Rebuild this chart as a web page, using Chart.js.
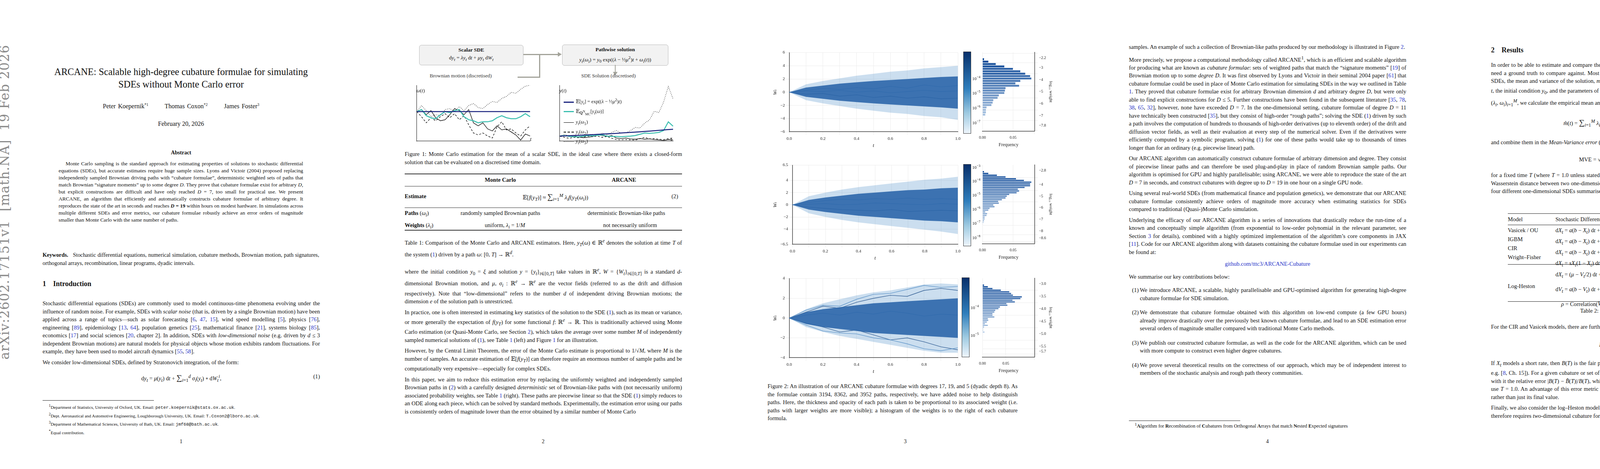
<!DOCTYPE html>
<html>
<head>
<meta charset="utf-8">
<script src="https://cdn.jsdelivr.net/npm/chart.js@4.4.1/dist/chart.umd.min.js"></script>
<style>
  body { margin: 0; background: #fff; width: 4635px; height: 1200px; position: relative; overflow: hidden;
         font-family: "Liberation Serif", "DejaVu Serif", serif; color: #111; }
  .abs { position: absolute; }
  .col { position: absolute; width: 710px; font-size: 14.6px; line-height: 20.5px; text-align: justify; }
  .col p { margin: 0 0 7px 0; }
  a, .ln { color: #2330c8; text-decoration: none; }
  .eq { text-align: center; position: relative; margin: 10px 0; }
  .eq .n { position: absolute; right: 0; top: 0; }
  .pn { position: absolute; top: 1122px; width: 927px; text-align: center; font-size: 14px; }
  canvas { position: absolute; }
  .cb { position: absolute; width: 18px; border: 1px solid #333;
        background: linear-gradient(#08306b, #2f7ebc 45%, #9ecae1 75%, #eef5fc); }
  .cbl { position: absolute; font-size: 11px; }
  table td, table th { padding: 0 10px; }
</style>
</head>
<body>

<!-- ============ PAGE 1 ============ -->
<div class="abs" style="left:-8px;top:320px;width:60px;height:600px;">
  <div style="position:absolute;left:0;top:600px;transform:rotate(-90deg);transform-origin:0 0;white-space:nowrap;
              font-family:'DejaVu Serif',serif;font-size:33px;color:#8a8a8a;letter-spacing:1px;">arXiv:2602.17151v1&nbsp; [math.NA]&nbsp; 19 Feb 2026</div>
</div>
<div class="abs" style="left:0;top:168px;width:927px;text-align:center;font-size:24.5px;line-height:32px;">
  ARCANE: Scalable high-degree cubature formulae for simulating<br>SDEs without Monte Carlo error
</div>
<div class="abs" style="left:0;top:262px;width:927px;text-align:center;font-size:16px;word-spacing:2px;">
  Peter Koepernik<sup style="font-size:10px">*1</sup> &nbsp; &nbsp; &nbsp; Thomas Coxon<sup style="font-size:10px">*2</sup> &nbsp; &nbsp; &nbsp; James Foster<sup style="font-size:10px">3</sup>
</div>
<div class="abs" style="left:0;top:308px;width:927px;text-align:center;font-size:16px;">February 20, 2026</div>
<div class="abs" style="left:0;top:383px;width:927px;text-align:center;font-size:14px;font-weight:bold;">Abstract</div>
<div class="abs" style="left:150px;top:410px;width:626px;font-size:13.3px;line-height:18px;text-align:justify;text-indent:18px;">
Monte Carlo sampling is the standard approach for estimating properties of solutions to stochastic differential equations (SDEs), but accurate estimates require huge sample sizes. Lyons and Victoir (2004) proposed replacing independently sampled Brownian driving paths with “cubature formulae”, deterministic weighted sets of paths that match Brownian “signature moments” up to some degree <i>D</i>. They prove that cubature formulae exist for arbitrary <i>D</i>, but explicit constructions are difficult and have only reached <i>D</i> = 7, too small for practical use. We present ARCANE, an algorithm that efficiently and automatically constructs cubature formulae of arbitrary degree. It reproduces the state of the art in seconds and reaches <b><i>D</i> = 19</b> within hours on modest hardware. In simulations across multiple different SDEs and error metrics, our cubature formulae robustly achieve an error orders of magnitude smaller than Monte Carlo with the same number of paths.
</div>
<div class="abs" style="left:109px;top:642px;width:708px;font-size:14.3px;line-height:21px;text-align:justify;">
<b>Keywords.</b> &nbsp; Stochastic differential equations, numerical simulation, cubature methods, Brownian motion, path signatures, orthogonal arrays, recombination, linear programs, dyadic intervals.
</div>
<div class="abs" style="left:109px;top:716px;font-size:18px;font-weight:bold;">1&nbsp;&nbsp;&nbsp; Introduction</div>
<div class="col" style="left:109px;top:766px;">
<p>Stochastic differential equations (SDEs) are commonly used to model continuous-time phenomena evolving under the influence of random noise. For example, SDEs with <i>scalar noise</i> (that is, driven by a single Brownian motion) have been applied across a range of topics—such as solar forecasting [<span class="ln">6</span>, <span class="ln">47</span>, <span class="ln">15</span>], wind speed modelling [<span class="ln">5</span>], physics [<span class="ln">76</span>], engineering [<span class="ln">89</span>], epidemiology [<span class="ln">13</span>, <span class="ln">64</span>], population genetics [<span class="ln">25</span>], mathematical finance [<span class="ln">21</span>], systems biology [<span class="ln">85</span>], economics [<span class="ln">17</span>] and social sciences [<span class="ln">20</span>, chapter 2]. In addition, SDEs with <i>low-dimensional noise</i> (e.g. driven by <i>d</i> ≤ 3 independent Brownian motions) are natural models for physical objects whose motion exhibits random fluctuations. For example, they have been used to model aircraft dynamics [<span class="ln">55</span>, <span class="ln">58</span>].</p>
<p>We consider low-dimensional SDEs, defined by Stratonovich integration, of the form:</p>
<div class="eq" style="margin-top:16px;">d<i>y<sub>t</sub></i> = <i>μ</i>(<i>y<sub>t</sub></i>) d<i>t</i> + <span style="font-size:20px">∑</span><sub><i>i</i>=1</sub><sup><i>d</i></sup> <i>σ<sub>i</sub></i>(<i>y<sub>t</sub></i>) ∘ d<i>W</i><sub><i>t</i></sub><sup><i>i</i></sup>,<span class="n">(1)</span></div>
</div>
<div class="abs" style="left:109px;top:1024px;width:285px;border-top:1px solid #222;"></div>
<div class="abs" style="left:125px;top:1030px;width:700px;font-size:11.2px;line-height:16.8px;">
<sup>1</sup>Department of Statistics, University of Oxford, UK. Email: <span style="font-family:'Liberation Mono',monospace">peter.koepernik@stats.ox.ac.uk</span>.<br>
<sup>2</sup>Dept. Aeronautical and Automotive Engineering, Loughborough University, UK. Email: <span style="font-family:'Liberation Mono',monospace">T.Coxon2@lboro.ac.uk</span>.<br>
<sup>3</sup>Department of Mathematical Sciences, University of Bath, UK. Email: <span style="font-family:'Liberation Mono',monospace">jmf68@bath.ac.uk</span>.<br>
<sup>*</sup>Equal contribution.
</div>
<div class="pn" style="left:0;">1</div>

<!-- ============ PAGE 2 ============ -->
<div class="abs" style="left:1073px;top:115px;width:265px;height:48px;border:1px solid #bbb;border-radius:6px;background:#f2f2f2;text-align:center;font-size:13.5px;line-height:20px;padding-top:2px;">
  <b>Scalar SDE</b><br>d<i>y<sub>t</sub></i> = <i>λy<sub>t</sub></i> d<i>t</i> + <i>μy<sub>t</sub></i> d<i>W<sub>t</sub></i>
</div>
<div class="abs" style="left:1439px;top:114px;width:270px;height:50px;border:1px solid #bbb;border-radius:6px;background:#f2f2f2;text-align:center;font-size:13.5px;line-height:20px;padding-top:2px;">
  <b>Pathwise solution</b><br><i>y<sub>t</sub></i>(<i>ω<sub>i</sub></i>) = <i>y</i><sub>0</sub> exp((<i>λ</i> − ½<i>μ</i><sup>2</sup>)<i>t</i> + <i>ω<sub>i</sub></i>(<i>t</i>))
</div>
<div class="abs" style="left:1340px;top:138px;width:92px;border-top:3px solid #a3a39a;"></div>
<div class="abs" style="left:1428px;top:133px;width:0;height:0;border-left:10px solid #a3a39a;border-top:6px solid transparent;border-bottom:6px solid transparent;"></div>
<div class="abs" style="left:1380px;top:138px;height:59px;border-left:3px solid #a3a39a;"></div>
<div class="abs" style="left:1325px;top:196px;width:58px;border-top:3px solid #a3a39a;"></div>
<div class="abs" style="left:1574px;top:166px;height:20px;border-left:2px solid #a3a39a;"></div>
<div class="abs" style="left:1569px;top:184px;width:0;height:0;border-top:9px solid #a3a39a;border-left:6px solid transparent;border-right:6px solid transparent;"></div>
<div class="abs" style="left:1100px;top:186px;font-size:13px;color:#333;">Brownian motion (discretised)</div>
<div class="abs" style="left:1488px;top:186px;font-size:13px;color:#333;">SDE Solution (discretised)</div>
<canvas id="f1a" class="abs" style="left:1055px;top:218px;" width="310" height="155"></canvas>
<canvas id="f1b" class="abs" style="left:1421px;top:218px;" width="310" height="155"></canvas>
<div class="abs" style="left:1066px;top:224px;font-size:13px;"><i>ω</i>(<i>t</i>)</div>
<div class="abs" style="left:1357px;top:348px;font-size:13px;"><i>t</i></div>
<div class="abs" style="left:1432px;top:224px;font-size:13px;"><i>y</i>(<i>t</i>)</div>
<div class="abs" style="left:1717px;top:348px;font-size:13px;"><i>t</i></div>
<div class="abs" style="left:1443px;top:246px;font-size:12.5px;line-height:20px;">
  <div><span style="display:inline-block;width:26px;border-top:3px solid #1a237e;vertical-align:middle;margin-right:5px;"></span>𝔼[<i>y<sub>t</sub></i>] = exp((<i>λ</i> − ½<i>μ</i><sup>2</sup>)<i>t</i>)</div>
  <div><span style="display:inline-block;width:26px;border-top:3px solid #3cbfb0;vertical-align:middle;margin-right:5px;"></span>𝔼<sub><b>Q</b><sup>N</sup><sub>MC</sub></sub>[<i>y<sub>t</sub></i>(<i>ω</i>)]</div>
  <div><span style="display:inline-block;width:26px;border-top:1.5px solid #000;vertical-align:middle;margin-right:5px;"></span><i>y<sub>t</sub></i>(<i>ω</i><sub>1</sub>)</div>
  <div><span style="display:inline-block;width:26px;border-top:2px dashed #000;vertical-align:middle;margin-right:5px;"></span><i>y<sub>t</sub></i>(<i>ω</i><sub>2</sub>)</div>
  <div><span style="display:inline-block;width:26px;border-top:1.5px dotted #000;vertical-align:middle;margin-right:5px;"></span><i>y<sub>t</sub></i>(<i>ω</i><sub>3</sub>)</div>
</div>
<div class="abs" style="left:1036px;top:384px;width:710px;font-size:14.6px;line-height:20.5px;text-align:justify;">
Figure 1: Monte Carlo estimation for the mean of a scalar SDE, in the ideal case where there exists a closed-form solution that can be evaluated on a discretised time domain.
</div>
<div class="abs" style="left:1036px;top:444px;width:710px;font-size:14.6px;">
  <div style="border-top:2px solid #333;"></div>
  <div style="position:relative;height:30px;"><b style="position:absolute;left:205px;top:6px;">Monte Carlo</b><b style="position:absolute;left:530px;top:6px;">ARCANE</b></div>
  <div style="border-top:1px solid #333;"></div>
  <div style="position:relative;height:54px;"><b style="position:absolute;left:0;top:17px;">Estimate</b>
    <span style="position:absolute;left:302px;top:15px;">𝔼[<i>f</i>(<i>y<sub>T</sub></i>)] ≈ <span style="font-size:20px">∑</span><sub><i>i</i>=1</sub><sup><i>M</i></sup> <i>λ<sub>i</sub>f</i>(<i>y<sub>T</sub></i>(<i>ω<sub>i</sub></i>))</span>
    <span style="position:absolute;right:10px;top:17px;">(2)</span></div>
  <div style="border-top:1px solid #333;"></div>
  <div style="position:relative;height:52px;line-height:26px;">
    <div><b>Paths</b> (<i>ω<sub>i</sub></i>)<span style="position:absolute;left:143px;">randomly sampled Brownian paths</span><span style="position:absolute;left:468px;">deterministic Brownian-like paths</span></div>
    <div><b>Weights</b> (<i>λ<sub>i</sub></i>)<span style="position:absolute;left:205px;">uniform, <i>λ<sub>i</sub></i> = 1/<i>M</i></span><span style="position:absolute;left:508px;">not necessarily uniform</span></div>
  </div>
  <div style="border-top:2px solid #333;margin-top:4px;"></div>
</div>
<div class="abs" style="left:1036px;top:606px;width:710px;font-size:14.6px;line-height:20.5px;text-align:justify;">
Table 1: Comparison of the Monte Carlo and ARCANE estimators. Here, <i>y<sub>T</sub></i>(<i>ω</i>) ∈ ℝ<sup><i>e</i></sup> denotes the solution at time <i>T</i> of the system (<span class="ln">1</span>) driven by a path <i>ω</i>: [0, <i>T</i>] → ℝ<sup><i>d</i></sup>.
</div>
<div class="col" style="left:1036px;top:680px;">
<p>where the initial condition <i>y</i><sub>0</sub> = <i>ξ</i> and solution <i>y</i> = {<i>y<sub>t</sub></i>}<sub><i>t</i>∈[0,<i>T</i>]</sub> take values in ℝ<sup><i>e</i></sup>, <i>W</i> = {<i>W<sub>t</sub></i>}<sub><i>t</i>∈[0,<i>T</i>]</sub> is a standard <i>d</i>-dimensional Brownian motion, and <i>μ</i>, <i>σ<sub>i</sub></i> : ℝ<sup><i>e</i></sup> → ℝ<sup><i>e</i></sup> are the vector fields (referred to as the drift and diffusion respectively). Note that “low-dimensional” refers to the number <i>d</i> of independent driving Brownian motions; the dimension <i>e</i> of the solution path is unrestricted.</p>
<p>In practice, one is often interested in estimating key statistics of the solution to the SDE (<span class="ln">1</span>), such as its mean or variance, or more generally the expectation of <i>f</i>(<i>y<sub>T</sub></i>) for some functional <i>f</i>: ℝ<sup><i>e</i></sup> → ℝ. This is traditionally achieved using Monte Carlo estimation (or Quasi-Monte Carlo, see Section <span class="ln">2</span>), which takes the average over some number <i>M</i> of independently sampled numerical solutions of (<span class="ln">1</span>), see Table <span class="ln">1</span> (left) and Figure <span class="ln">1</span> for an illustration.</p>
<p>However, by the Central Limit Theorem, the error of the Monte Carlo estimate is proportional to 1/√<i>M</i>, where <i>M</i> is the number of samples. An accurate estimation of 𝔼[<i>f</i>(<i>y<sub>T</sub></i>)] can therefore require an enormous number of sample paths and be computationally very expensive—especially for complex SDEs.</p>
<p>In this paper, we aim to reduce this estimation error by replacing the uniformly weighted and independently sampled Brownian paths in (<span class="ln">2</span>) with a carefully designed <i>deterministic</i> set of Brownian-like paths with (not necessarily uniform) associated probability weights, see Table <span class="ln">1</span> (right). These paths are piecewise linear so that the SDE (<span class="ln">1</span>) simply reduces to an ODE along each piece, which can be solved by standard methods. Experimentally, the estimation error using our paths is consistently orders of magnitude lower than the error obtained by a similar number of Monte Carlo</p>
</div>
<div class="pn" style="left:927px;">2</div>

<!-- ============ PAGE 3 ============ -->
<canvas id="p1" width="487" height="255" style="left:1975px;top:125px;"></canvas>
<canvas id="p2" width="487" height="255" style="left:1975px;top:413px;"></canvas>
<canvas id="p3" width="487" height="255" style="left:1975px;top:703px;"></canvas>
<canvas id="h1" width="200" height="255" style="left:2498px;top:125px;"></canvas>
<canvas id="h2" width="200" height="255" style="left:2498px;top:413px;"></canvas>
<canvas id="h3" width="200" height="255" style="left:2498px;top:703px;"></canvas>
<div class="cb" style="left:2466px;top:132px;height:208px;"></div>
<div class="cb" style="left:2466px;top:420px;height:208px;"></div>
<div class="cb" style="left:2462px;top:710px;height:202px;"></div>
<div class="cbl" style="left:2489px;top:192px;">10<sup>−4</sup></div>
<div class="cbl" style="left:2489px;top:229px;">10<sup>−5</sup></div>
<div class="cbl" style="left:2489px;top:267px;">10<sup>−6</sup></div>
<div class="cbl" style="left:2489px;top:305px;">10<sup>−7</sup></div>
<div class="cbl" style="left:2489px;top:419px;">10<sup>−3</sup></div>
<div class="cbl" style="left:2489px;top:454px;">10<sup>−4</sup></div>
<div class="cbl" style="left:2489px;top:490px;">10<sup>−5</sup></div>
<div class="cbl" style="left:2489px;top:526px;">10<sup>−6</sup></div>
<div class="cbl" style="left:2489px;top:562px;">10<sup>−7</sup></div>
<div class="cbl" style="left:2489px;top:599px;">10<sup>−8</sup></div>
<div class="cbl" style="left:2485px;top:778px;">10<sup>−4</sup></div>
<div class="cbl" style="left:2485px;top:849px;">10<sup>−5</sup></div>
<div class="abs" style="left:1965px;top:978px;width:640px;font-size:14.6px;line-height:20.5px;text-align:justify;">
Figure 2: An illustration of our ARCANE cubature formulae with degrees 17, 19, and 5 (dyadic depth 8). As the formulae contain 3194, 8362, and 3952 paths, respectively, we have added noise to help distinguish paths. Here, the thickness and opacity of each path is taken to be proportional to its associated weight (i.e. paths with larger weights are more visible); a histogram of the weights is to the right of each cubature formula.
</div>
<div class="pn" style="left:1854px;">3</div>

<!-- ============ PAGE 4 ============ -->
<div class="col" style="left:2890px;top:110px;">
<p>samples. An example of such a collection of Brownian-like paths produced by our methodology is illustrated in Figure <span class="ln">2</span>.</p>
<p>More precisely, we propose a computational methodology called ARCANE<sup>1</sup>, which is an efficient and scalable algorithm for producing what are known as <i>cubature formulae</i>: sets of weighted paths that match the “signature moments” [<span class="ln">19</span>] of Brownian motion up to some <i>degree D</i>. It was first observed by Lyons and Victoir in their seminal 2004 paper [<span class="ln">61</span>] that cubature formulae could be used in place of Monte Carlo estimation for simulating SDEs in the way we outlined in Table <span class="ln">1</span>. They proved that cubature formulae exist for arbitrary Brownian dimension <i>d</i> and arbitrary degree <i>D</i>, but were only able to find explicit constructions for <i>D</i> ≤ 5. Further constructions have been found in the subsequent literature [<span class="ln">35</span>, <span class="ln">78</span>, <span class="ln">38</span>, <span class="ln">65</span>, <span class="ln">32</span>], however, none have exceeded <i>D</i> = 7. In the one-dimensional setting, cubature formulae of degree <i>D</i> = 11 have technically been constructed [<span class="ln">35</span>], but they consist of high-order “rough paths”; solving the SDE (<span class="ln">1</span>) driven by such a path involves the computation of hundreds to thousands of high-order derivatives (up to eleventh order) of the drift and diffusion vector fields, as well as their evaluation at every step of the numerical solver. Even if the derivatives were efficiently computed by a symbolic program, solving (<span class="ln">1</span>) for one of these paths would take up to thousands of times longer than for an ordinary (e.g. piecewise linear) path.</p>
<p>Our ARCANE algorithm can automatically construct cubature formulae of arbitrary dimension and degree. They consist of piecewise linear paths and can therefore be used plug-and-play in place of random Brownian sample paths. Our algorithm is optimised for GPU and highly parallelisable; using ARCANE, we were able to reproduce the state of the art <i>D</i> = 7 in seconds, and construct cubatures with degree up to <i>D</i> = 19 in one hour on a single GPU node.</p>
<p>Using several real-world SDEs (from mathematical finance and population genetics), we demonstrate that our ARCANE cubature formulae consistently achieve orders of magnitude more accuracy when estimating statistics for SDEs compared to traditional (Quasi-)Monte Carlo simulation.</p>
<p>Underlying the efficacy of our ARCANE algorithm is a series of innovations that drastically reduce the run-time of a known and conceptually simple algorithm (from exponential to low-order polynomial in the relevant parameter, see Section <span class="ln">3</span> for details), combined with a highly optimized implementation of the algorithm’s core components in JAX [<span class="ln">11</span>]. Code for our ARCANE algorithm along with datasets containing the cubature formulae used in our experiments can be found at:</p>
<p style="text-align:center;margin:10px 0 12px 0;"><span class="ln">github.com/tttc3/ARCANE-Cubature</span></p>
<p>We summarise our key contributions below:</p>
<div style="padding-left:28px;position:relative;margin-top:14px;">
<p style="margin-bottom:16px;"><span style="position:absolute;left:8px;">(1)</span>We introduce ARCANE, a scalable, highly parallelisable and GPU-optimised algorithm for generating high-degree cubature formulae for SDE simulation.</p>
<p style="margin-bottom:16px;position:relative;"><span style="position:absolute;left:-20px;">(2)</span>We demonstrate that cubature formulae obtained with this algorithm on low-end compute (a few GPU hours) already improve drastically over the previously best known cubature formulae, and lead to an SDE estimation error several orders of magnitude smaller compared with traditional Monte Carlo methods.</p>
<p style="margin-bottom:16px;position:relative;"><span style="position:absolute;left:-20px;">(3)</span>We publish our constructed cubature formulae, as well as the code for the ARCANE algorithm, which can be used with more compute to construct even higher degree cubatures.</p>
<p style="position:relative;"><span style="position:absolute;left:-20px;">(4)</span>We prove several theoretical results on the correctness of our approach, which may be of independent interest to members of the stochastic analysis and rough path theory communities.</p>
</div>
</div>
<div class="abs" style="left:2890px;top:1076px;width:285px;border-top:1px solid #222;"></div>
<div class="abs" style="left:2905px;top:1080px;font-size:12.5px;"><sup>1</sup><b>A</b>lgorithm for <b>R</b>ecombination of <b>C</b>ubatures from Orthogonal <b>A</b>rrays that match <b>N</b>ested <b>E</b>xpected signatures</div>
<div class="pn" style="left:2781px;">4</div>

<!-- ============ PAGE 5 ============ -->
<div class="abs" style="left:3817px;top:118px;font-size:18px;font-weight:bold;">2&nbsp;&nbsp;&nbsp; Results</div>
<div class="col" style="left:3817px;top:156px;">
<p>In order to be able to estimate and compare the simulation errors of the cubature and the Monte Carlo SDE solvers, we need a ground truth to compare against. Most statistics of most SDEs are not available in closed form, but for a few SDEs, the mean and variance of the solution, <i>m</i>(<i>t</i>) = 𝔼[<i>y<sub>t</sub></i>] and <i>v</i>(<i>t</i>) = 𝕍(<i>y<sub>t</sub></i>), are available in closed form (as a function of <i>t</i>, the initial condition <i>y</i><sub>0</sub>, and the parameters of the SDE). Then, for a given set of Monte Carlo paths, or a given cubature (<i>λ<sub>i</sub></i>, <i>ω<sub>i</sub></i>)<sub><i>i</i>=1</sub><sup><i>M</i></sup>, we calculate the empirical mean and variance,</p>
<div class="eq" style="margin:22px 0 24px 0;"><i>m̂</i>(<i>t</i>) = <span style="font-size:20px">∑</span><sub><i>i</i>=1</sub><sup><i>M</i></sup> <i>λ<sub>i</sub>y<sub>t</sub></i>(<i>ω<sub>i</sub></i>), &nbsp; &nbsp; &nbsp; <i>v̂</i>(<i>t</i>) = <span style="font-size:20px">∑</span><sub><i>i</i>=1</sub><sup><i>M</i></sup> <i>λ<sub>i</sub></i>(<i>y<sub>t</sub></i>(<i>ω<sub>i</sub></i>) − <i>m̂</i>(<i>t</i>))<sup>2</sup>,</div>
<p>and combine them in the <i>Mean-Variance error</i> (MVE)</p>
<div class="eq" style="margin:18px 0 20px 0;">MVE = √<span style="border-top:1px solid #111;">(<i>m̂</i>(<i>T</i>) − <i>m</i>(<i>T</i>))<sup>2</sup> + (√<i>v̂</i>(<i>T</i>) − √<i>v</i>(<i>T</i>))<sup>2</sup></span>,<span class="n">(3)</span></div>
<p>for a fixed time <i>T</i> (where <i>T</i> = 1.0 unless stated otherwise). The motivation behind formula (<span class="ln">3</span>) is that it describes the 2-Wasserstein distance between two one-dimensional Gaussians 𝒩(<i>m̂</i>(<i>T</i>), <i>v̂</i>(<i>T</i>)) and 𝒩(<i>m</i>(<i>T</i>), <i>v</i>(<i>T</i>)). We study the MVE for four different one-dimensional SDEs summarised in Table <span class="ln">2</span>, with results presented in Fig. <span class="ln">3</span>.</p>
</div>
<div class="abs" style="left:3860px;top:546px;width:610px;font-size:14.6px;line-height:23px;">
  <div style="border-top:1.5px solid #222;"></div>
  <div style="position:relative;height:28px;"><span style="position:absolute;left:0;top:3px;">Model</span><span style="position:absolute;left:122px;top:3px;">Stochastic Differential Equation (Itô form)</span><span style="position:absolute;left:452px;top:3px;">Results</span><span style="position:absolute;left:522px;top:3px;">Details</span></div>
  <div style="border-top:1px solid #222;"></div>
  <div style="position:relative;height:96px;">
    <div style="position:absolute;left:0;top:2px;">Vasicek / OU<br>IGBM<br>CIR<br>Wright–Fisher</div>
    <div style="position:absolute;left:122px;top:2px;">d<i>X<sub>t</sub></i> = <i>a</i>(<i>b</i> − <i>X<sub>t</sub></i>) d<i>t</i> + <i>σ</i> d<i>W<sub>t</sub></i><br>d<i>X<sub>t</sub></i> = <i>a</i>(<i>b</i> − <i>X<sub>t</sub></i>) d<i>t</i> + <i>σX<sub>t</sub></i> d<i>W<sub>t</sub></i><br>d<i>X<sub>t</sub></i> = <i>a</i>(<i>b</i> − <i>X<sub>t</sub></i>) d<i>t</i> + <i>σ</i>√<i>X<sub>t</sub></i> d<i>W<sub>t</sub></i><br>d<i>X<sub>t</sub></i> = <i>sX<sub>t</sub></i>(1 − <i>X<sub>t</sub></i>) d<i>t</i> + √<i>γX<sub>t</sub></i>(1 − <i>X<sub>t</sub></i>) d<i>W<sub>t</sub></i></div>
    <div style="position:absolute;left:452px;top:36px;">Fig. <span class="ln">3</span></div>
    <div style="position:absolute;left:522px;top:2px;">Appendix <span class="ln">A.1</span><br>Appendix <span class="ln">A.2</span><br>Appendix <span class="ln">A.3</span><br>Appendix <span class="ln">A.4</span></div>
  </div>
  <div style="border-top:1px solid #222;margin-top:4px;"></div>
  <div style="position:relative;height:92px;">
    <div style="position:absolute;left:0;top:44px;">Log-Heston</div>
    <div style="position:absolute;left:122px;top:6px;line-height:28px;">d<i>X<sub>t</sub></i> = (<i>μ</i> − <i>V<sub>t</sub></i>/2) d<i>t</i> + √<i>V<sub>t</sub></i> d<i>W</i><sub><i>t</i></sub><sup><i>x</i></sup>,<br>d<i>V<sub>t</sub></i> = <i>a</i>(<i>b</i> − <i>V<sub>t</sub></i>) d<i>t</i> + <i>σ</i>√<i>V<sub>t</sub></i> d<i>W</i><sub><i>t</i></sub><sup><i>v</i></sup>,<br>&nbsp; &nbsp; <i>ρ</i> = Correlation(<i>W<sup>x</sup></i>, <i>W<sup>v</sup></i>).</div>
    <div style="position:absolute;left:452px;top:44px;">Fig. <span class="ln">4</span></div>
    <div style="position:absolute;left:522px;top:44px;">Appendix <span class="ln">A.5</span></div>
  </div>
  <div style="border-top:1.5px solid #222;margin-top:2px;"></div>
  <div style="text-align:center;margin-top:12px;">Table 2: Examples of widely-used SDEs.</div>
</div>
<div class="col" style="left:3817px;top:826px;">
<p>For the CIR and Vasicek models, there are furthermore closed formulas for the <i>Initial Bond Price</i></p>
<div class="eq" style="margin:20px 0 22px 0;"><i>B</i>(<i>T</i>) = 𝔼[exp(−∫<sub>0</sub><sup><i>T</i></sup> <i>X<sub>s</sub></i> d<i>s</i>)].<span class="n">(4)</span></div>
<p>If <i>X<sub>t</sub></i> models a short rate, then <i>B</i>(<i>T</i>) is the fair price at time zero of a zero-coupon bond paying 1 at maturity time <i>T</i> (see e.g. [<span class="ln">8</span>, Ch. 15]). For a given cubature or set of Monte Carlo paths, we then compute the empirical expectation <i>B̂</i>(<i>T</i>) and with it the relative error |<i>B</i>(<i>T</i>) − <i>B̂</i>(<i>T</i>)|/<i>B</i>(<i>T</i>), which we call the <i>Initial Bond Price Relative Error</i>, see Figure <span class="ln">3</span>. Again, we use <i>T</i> = 1.0. An advantage of this error metric over the MVE is that the bond price depends on the entire solution path rather than just its final value.</p>
<p>Finally, we also consider the log–Heston model (see Table <span class="ln">2</span>), which is driven by <i>two</i> independent Brownian motions and therefore requires <i>two</i>-dimensional cubature formulae to simulate. For the</p>
</div>
<div class="pn" style="left:3708px;">5</div>

<script>
// ---------- Figure 1 data (25 time steps) ----------
const f1Steps = ["0","1","2","3","4","5","6","7","8","9","10","11","12","13","14","15","16","17","18","19","20","21","22","23","24"];
const omegaMean = [0,0,0,0,0,0,0,0,0,0,0,0,0,0,0,0,0,0,0,0,0,0,0,0,0];
const omegaMC   = [0,0.2,-0.4,-0.6,-0.7,-0.3,0.0,-0.1,0.1,0.2,-0.5,-0.8,-0.9,-1.1,-1.0,-1.0,-0.9,-0.6,-0.4,-0.6,-0.7,-0.7,-0.5,-0.2,-0.5];
const omega1 = [0,0.2,-0.3,0.1,-0.6,-0.9,-0.8,-0.3,0.3,0.1,-0.3,0.2,-1.1,-1.4,-1.1,-1.7,-1.9,-1.4,-1.8,-1.7,-2.0,-2.3,-2.8,-2.2,-2.4];
const omega2 = [0,-0.5,-1.1,-0.6,-0.9,-0.5,-0.2,-0.6,-0.2,-0.8,-0.4,-1.3,-2.1,-2.3,-2.1,-2.4,-2.6,-1.5,-1.0,-1.8,-1.7,-2.1,-2.4,-1.8,-1.4];
const omega3 = [0,0.6,0.1,-0.5,-0.3,-0.4,0.2,0.3,0.0,0.5,0.1,0.6,0.8,0.4,0.3,0.7,1.0,0.9,1.3,1.5,1.9,1.8,2.2,2.5,2.6];
const yMean = [1,1.03,1.06,1.1,1.13,1.17,1.2,1.24,1.28,1.32,1.36,1.4,1.45,1.5,1.55,1.6,1.65,1.7,1.75,1.81,1.87,1.93,1.99,2.05,2.1];
const yMC   = [1,1.1,0.95,0.9,0.9,1.0,1.1,1.05,1.15,1.2,1.0,0.95,0.95,0.9,0.95,1.0,1.1,1.3,1.5,1.45,1.5,1.6,1.9,3.3,2.6];
const y1 = [1,1.1,0.95,1.05,0.85,0.75,0.8,0.95,1.2,1.1,0.95,1.1,0.7,0.6,0.7,0.55,0.5,0.6,0.5,0.55,0.45,0.4,0.3,0.45,0.4];
const y2 = [1,0.8,0.65,0.8,0.75,0.85,1.0,0.9,1.0,0.8,0.95,0.65,0.45,0.4,0.45,0.4,0.35,0.6,0.8,0.55,0.6,0.5,0.45,0.6,0.7];
const y3 = [1,1.3,1.0,0.85,0.9,0.9,1.2,1.3,1.1,1.5,1.2,1.6,1.9,1.5,1.5,1.9,2.4,2.3,3.1,3.6,5.0,4.8,6.5,9.0,7.0];

// ---------- Figure 2 data ----------
const tLabels = ["0.0","0.1","0.2","0.3","0.4","0.5","0.6","0.7","0.8","0.9","1.0"];
// envelopes of the path clouds (faint outer band and dense inner band)
const p1OuterHi = [0,1.2,1.7,2.1,2.5,2.8,3.1,3.3,3.6,3.8,4.0];
const p1OuterLo = [0,-1.2,-1.7,-2.1,-2.5,-2.8,-3.1,-3.3,-3.6,-3.8,-4.2];
const p1InnerHi = [0,0.7,1.0,1.3,1.5,1.7,1.85,2.0,2.15,2.3,2.4];
const p1InnerLo = [0,-0.7,-1.0,-1.3,-1.5,-1.7,-1.85,-2.0,-2.15,-2.3,-2.5];
const p1Paths = [
  [0,0.3,0.6,0.4,0.7,0.5,0.9,0.6,1.1,0.8,1.0],
  [0,-0.3,-0.2,-0.6,-0.4,-0.8,-0.6,-0.9,-0.7,-1.0,-0.9],
  [0,0.2,0.1,0.3,0.0,0.2,-0.1,0.1,0.3,0.1,0.2],
];
const p2OuterHi = [0,1.4,2.0,2.5,2.9,3.2,3.5,3.8,4.1,4.3,4.6];
const p2OuterLo = [0,-1.4,-2.0,-2.5,-2.9,-3.2,-3.5,-3.8,-4.1,-4.4,-4.8];
const p2InnerHi = [0,0.8,1.2,1.5,1.8,2.0,2.2,2.4,2.5,2.7,2.8];
const p2InnerLo = [0,-0.8,-1.2,-1.5,-1.8,-2.0,-2.2,-2.4,-2.6,-2.7,-2.9];
const p2Paths = [
  [0,0.4,0.7,0.9,0.8,1.0,0.9,1.1,0.9,1.0,0.9],
  [0,-0.4,-0.6,-0.8,-0.9,-1.0,-0.8,-1.1,-1.0,-0.9,-1.0],
  [0,0.1,0.2,0.0,0.1,0.3,0.2,0.1,0.0,0.2,0.1],
];
const p3OuterHi = [0,0.9,1.5,1.9,2.3,2.6,2.8,3.1,3.4,3.5,3.4];
const p3OuterLo = [0,-0.9,-1.4,-1.8,-2.1,-2.4,-2.7,-3.0,-3.3,-3.5,-3.5];
const p3InnerHi = [0,0.6,0.9,1.1,1.3,1.5,1.6,1.7,1.8,1.9,2.0];
const p3InnerLo = [0,-0.6,-0.9,-1.1,-1.3,-1.5,-1.6,-1.7,-1.8,-1.9,-2.0];
const p3Paths = [
  [0,0.8,1.3,1.2,1.9,2.4,2.5,2.9,3.3,3.1,3.2],
  [0,0.6,1.2,1.0,1.6,2.0,2.3,2.2,2.8,3.0,2.8],
  [0,-0.7,-1.3,-1.5,-1.6,-2.0,-2.2,-2.6,-3.1,-3.3,-3.0],
  [0,-0.5,-0.9,-1.4,-1.2,-1.7,-2.2,-2.0,-2.4,-2.9,-3.2],
  [0,0.3,0.5,0.3,0.6,0.4,0.7,0.5,0.2,0.4,0.3],
];
// weight histograms: frequency per bin of log10 weight, listed from the top bin down
const h1Start = -2.3, h1Step = 0.2;
const h1Freq = [0.003,0.01,0.022,0.036,0.05,0.062,0.07,0.078,0.08,0.062,0.054,0.06,0.038,0.037,0.036,0.027,0.025,0.018,0.017,0.015,0.007,0.006,0.006,0.005,0.001,0,0,0];
const h2Start = -2.9, h2Step = 0.15;
const h2Freq = [0.003,0.01,0.024,0.038,0.055,0.068,0.08,0.078,0.078,0.069,0.058,0.06,0.056,0.044,0.04,0.038,0.032,0.026,0.027,0.018,0.02,0.012,0.01,0.005,0.008,0.007,0.004,0.004,0.003,0.002,0.001,0,0,0,0];
const h3Start = -3.05, h3Step = 0.067;
const h3Freq = [0.004,0.012,0.022,0.04,0.058,0.062,0.066,0.085,0.082,0.065,0.07,0.052,0.054,0.038,0.035,0.028,0.026,0.022,0.022,0.026,0.012,0.013,0.01,0.006,0.012,0.004,0.002,0.002,0.005,0.001,0.001];

const SERIF = "'Liberation Serif', 'DejaVu Serif', serif";
Chart.defaults.font.family = SERIF;
Chart.defaults.color = "#222";
Chart.defaults.animation = false;
Chart.defaults.responsive = false;
Chart.defaults.plugins.legend.display = false;
Chart.defaults.plugins.tooltip.enabled = false;

function line(data, color, width, dash) {
  return { data: data, borderColor: color, borderWidth: width, borderDash: dash || [], pointRadius: 0, tension: 0, fill: false };
}

function fig1(id, sets, ymin, ymax) {
  new Chart(document.getElementById(id), {
    type: "line",
    data: { labels: f1Steps, datasets: sets },
    options: {
      layout: { padding: { left: 4, right: 8, top: 0, bottom: 4 } },
      scales: {
        x: { grid: { display: false }, ticks: { display: false }, border: { color: "#333", width: 1.2 } },
        y: { min: ymin, max: ymax, grid: { display: false }, ticks: { display: false }, border: { color: "#333", width: 1.2 } },
      },
    },
  });
}

fig1("f1a", [
  line(omegaMean, "#1a237e", 2.5),
  line(omegaMC, "#3cbfb0", 2.5),
  line(omega1, "#000", 1.3),
  line(omega2, "#000", 1.3, [5, 4]),
  line(omega3, "#000", 1.2, [1.5, 3]),
], -2.9, 2.6);

fig1("f1b", [
  line(yMean, "#1a237e", 2.5),
  line(yMC, "#3cbfb0", 2.5),
  line(y1, "#000", 1.3),
  line(y2, "#000", 1.3, [5, 4]),
  line(y3, "#000", 1.2, [1.5, 3]),
], 0.2, 9.2);

function band(hi, lo, color) {
  return [
    { data: hi, borderWidth: 0, pointRadius: 0, fill: false, borderColor: "transparent" },
    { data: lo, borderWidth: 0, pointRadius: 0, fill: "-1", backgroundColor: color, borderColor: "transparent" },
  ];
}

function pathPanel(id, oHi, oLo, iHi, iLo, paths, ymin, ymax, step) {
  let sets = [].concat(
    band(oHi, oLo, "rgba(107,160,210,0.35)"),
    band(iHi, iLo, "rgba(12,72,150,0.9)")
  );
  for (let i = 0; i < paths.length; i++) {
    sets.push(line(paths[i], i % 2 ? "rgba(8,48,107,0.9)" : "rgba(70,130,190,0.85)", 1.4));
  }
  new Chart(document.getElementById(id), {
    type: "line",
    data: { labels: tLabels, datasets: sets },
    options: {
      layout: { padding: { top: 6, right: 10 } },
      scales: {
        x: {
          grid: { color: "#ececec" }, border: { color: "#444", width: 1.5 },
          ticks: { font: { size: 11 }, maxRotation: 0, callback: (v, i) => (i % 2 == 0 ? tLabels[i] : "") },
          title: { display: true, text: "t", font: { size: 13, style: "italic" }, padding: 0 },
        },
        y: {
          min: ymin, max: ymax, grid: { color: "#ececec" }, border: { color: "#444", width: 1.5 },
          ticks: { stepSize: step, font: { size: 11 }, callback: v => (v < 0 ? "−" + (-v) : v) },
          title: { display: true, text: "Wₜ", font: { size: 13, style: "italic" }, padding: 2 },
        },
      },
    },
  });
}

pathPanel("p1", p1OuterHi, p1OuterLo, p1InnerHi, p1InnerLo, p1Paths, -6, 6, 2);
pathPanel("p2", p2OuterHi, p2OuterLo, p2InnerHi, p2InnerLo, p2Paths, -6.5, 6.5, 2);
pathPanel("p3", p3OuterHi, p3OuterLo, p3InnerHi, p3InnerLo, p3Paths, -4, 4, 2);

function histPanel(id, start, step, freq, ymin, ymax, xmax, ystep, xticks) {
  let pts = [];
  let colors = [];
  for (let i = 0; i < freq.length; i++) {
    pts.push({ x: freq[i], y: start - step * i });
    let a = 1.0 - i / freq.length;
    colors.push("rgba(" + Math.round(200 - 190 * a) + "," + Math.round(220 - 150 * a) + "," + Math.round(240 - 90 * a) + ",1)");
  }
  new Chart(document.getElementById(id), {
    type: "bar",
    data: { datasets: [{ data: pts, backgroundColor: colors, borderColor: "#fff", borderWidth: 0.5, barPercentage: 1, categoryPercentage: 0.95 }] },
    options: {
      indexAxis: "y",
      layout: { padding: { left: 17, top: 6 } },
      scales: {
        x: {
          min: 0, max: xmax, grid: { color: "#ececec" }, border: { color: "#444", width: 1.5 },
          ticks: { font: { size: 10 }, maxRotation: 0, callback: v => (xticks.indexOf(Math.round(v * 100) / 100) >= 0 ? v.toFixed(2) : "") , stepSize: 0.05 },
          title: { display: true, text: "Frequency", font: { size: 12 }, padding: 2 },
        },
        y: {
          type: "linear", position: "right", min: ymin, max: ymax, reverse: false,
          grid: { color: "#ececec" }, border: { color: "#444", width: 1.5 },
          ticks: { stepSize: ystep, font: { size: 10 }, callback: v => "−" + (ystep < 1 ? (-v).toFixed(1) : -v) },
          title: { display: true, text: "log₁₀ weight", font: { size: 11 }, padding: 2 },
        },
      },
    },
  });
}

histPanel("h1", h1Start, h1Step, h1Freq, -7.8, -2.2, 0.085, 1, [0, 0.05]);
histPanel("h2", h2Start, h2Step, h2Freq, -8.6, -2.8, 0.085, 1, [0, 0.05]);
histPanel("h3", h3Start, h3Step, h3Freq, -5.7, -3.0, 0.112, 0.5, [0, 0.05, 0.1]);
</script>
</body>
</html>
